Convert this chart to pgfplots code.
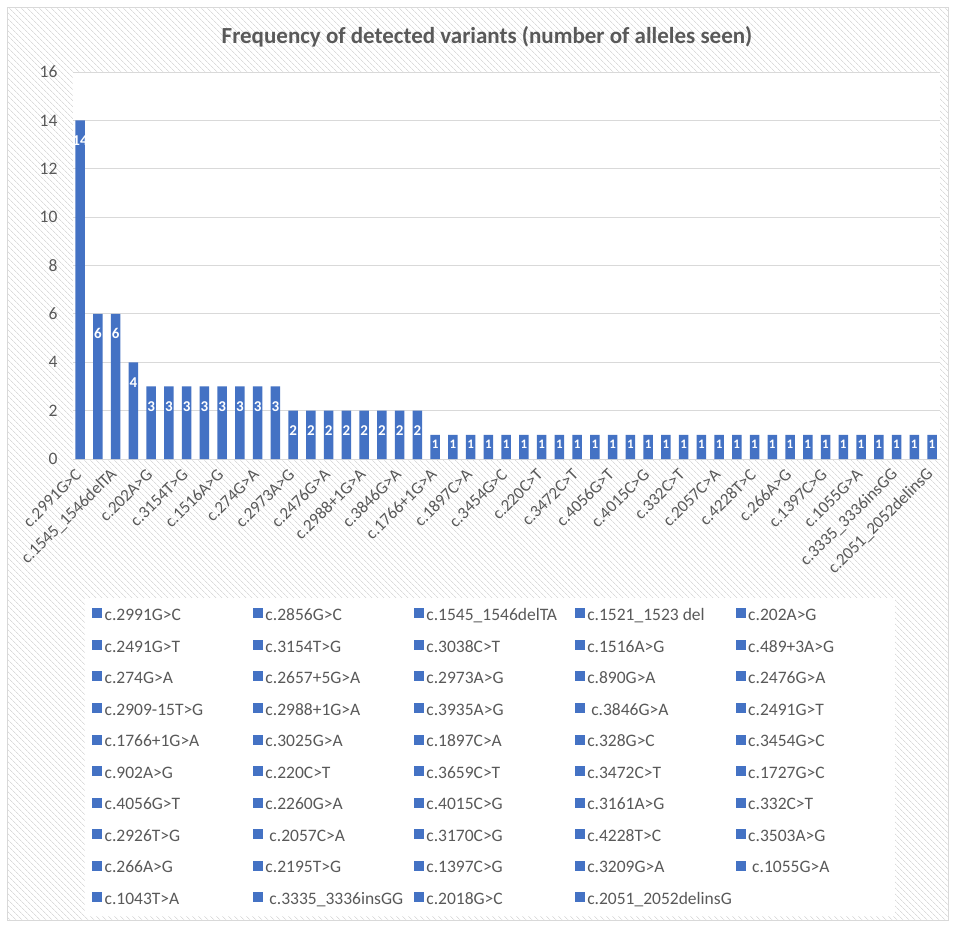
\documentclass[border=0pt]{standalone}
\usepackage{pgfplots}
\pgfplotsset{compat=1.18}
\usetikzlibrary{patterns.meta}
\usepackage{fontspec}
\setmainfont{Carlito}
\definecolor{barblue}{HTML}{4472C4}
\definecolor{txt}{HTML}{595959}
\definecolor{gridc}{HTML}{D9D9D9}
\pgfplotsset{sq/.style={legend image code/.code={\fill[barblue] (0pt,-2.4pt) rectangle (9pt,6.6pt);}}}
\newcommand{\LE}[1]{\addlegendimage{sq}\addlegendentry{\makebox[140pt][l]{\strut#1}}}
\begin{document}
\begin{tikzpicture}
\fill[white] (0pt,0pt) rectangle (955pt,-927pt);
\fill[pattern={Lines[angle=-45,distance=4pt,line width=0.7pt]},pattern color=black!14] (7pt,-7pt) rectangle (948pt,-920pt);
\draw[gridc] (7pt,-7pt) rectangle (948pt,-920pt);
\node[font=\bfseries\fontsize{23}{23}\selectfont, text=txt] at (487pt,-37pt) {Frequency of detected variants (number of alleles seen)};
\begin{axis}[
 at={(73pt,-459pt)}, anchor=south west,
 scale only axis, width=867pt, height=387pt,
 ymin=0, ymax=16, ytick={0,2,...,16},
 xmin=-0.4, xmax=48.45,
 ybar, bar width=9.5pt,
 axis background/.style={fill=white},
 ymajorgrids, grid style={gridc, line width=0.8pt},
 axis x line*=bottom, axis y line*=left,
 y axis line style={draw=none},
 x axis line style={gridc, line width=0.8pt},
 tick style={draw=none},
 xtick={0,2,...,48},
 xticklabels={c.2991G>C, c.1545\textunderscore 1546delTA, c.202A>G, c.3154T>G, c.1516A>G, c.274G>A, c.2973A>G, c.2476G>A, c.2988+1G>A, c.3846G>A, c.1766+1G>A, c.1897C>A, c.3454G>C, c.220C>T, c.3472C>T, c.4056G>T, c.4015C>G, c.332C>T, c.2057C>A, c.4228T>C, c.266A>G, c.1397C>G, c.1055G>A, c.3335\textunderscore 3336insGG, c.2051\textunderscore 2052delinsG},
 xticklabel style={rotate=45, anchor=east, font=\fontsize{17}{17}\selectfont, text=txt, inner sep=2pt},
 xticklabel shift=7pt,
 yticklabel style={font=\fontsize{17.5}{17.5}\selectfont, text=txt, xshift=-12pt},
 /pgf/number format/assume math mode=true,
 nodes near coords,
 legend columns=5,
 legend cell align=left,
 legend style={at={(0.01384,-0.3592)}, anchor=north west, draw=none, fill=white,
   inner xsep=7pt, inner ysep=10pt, row sep=17.8pt,
   font=\fontsize{17.5}{17.5}\selectfont, text=txt, nodes={inner sep=0pt},
   /tikz/every odd column/.append style={column sep=3pt},
   /tikz/every even column/.append style={column sep=8.5pt}},
]
% bars with values >= 2
\addplot[fill=barblue, draw=none, forget plot, bar shift=0pt,
  every node near coord/.append style={anchor=center, yshift=-20pt, text=white, font=\bfseries\fontsize{15}{15}\selectfont}] coordinates {
(0,14) (1,6) (2,6) (3,4)
(4,3) (5,3) (6,3) (7,3) (8,3) (9,3) (10,3) (11,3)
(12,2) (13,2) (14,2) (15,2) (16,2) (17,2) (18,2) (19,2)
};
% bars with value 1
\addplot[fill=barblue, draw=none, forget plot, bar shift=0pt,
  every node near coord/.append style={anchor=center, yshift=-9pt, text=white, font=\bfseries\fontsize{13}{13}\selectfont}] coordinates {
(20,1) (21,1) (22,1) (23,1) (24,1) (25,1) (26,1) (27,1) (28,1) (29,1)
(30,1) (31,1) (32,1) (33,1) (34,1) (35,1) (36,1) (37,1) (38,1) (39,1)
(40,1) (41,1) (42,1) (43,1) (44,1) (45,1) (46,1) (47,1) (48,1)
};
\LE{c.2991G>C}\LE{c.2856G>C}\LE{c.1545\textunderscore 1546delTA}\LE{c.1521\textunderscore 1523 del}\LE{c.202A>G}
\LE{c.2491G>T}\LE{c.3154T>G}\LE{c.3038C>T}\LE{c.1516A>G}\LE{c.489+3A>G}
\LE{c.274G>A}\LE{c.2657+5G>A}\LE{c.2973A>G}\LE{c.890G>A}\LE{c.2476G>A}
\LE{c.2909-15T>G}\LE{c.2988+1G>A}\LE{c.3935A>G}\LE{\hspace{4pt}c.3846G>A}\LE{c.2491G>T}
\LE{c.1766+1G>A}\LE{c.3025G>A}\LE{c.1897C>A}\LE{c.328G>C}\LE{c.3454G>C}
\LE{c.902A>G}\LE{c.220C>T}\LE{c.3659C>T}\LE{c.3472C>T}\LE{c.1727G>C}
\LE{c.4056G>T}\LE{c.2260G>A}\LE{c.4015C>G}\LE{c.3161A>G}\LE{c.332C>T}
\LE{c.2926T>G}\LE{\hspace{4pt}c.2057C>A}\LE{c.3170C>G}\LE{c.4228T>C}\LE{c.3503A>G}
\LE{c.266A>G}\LE{c.2195T>G}\LE{c.1397C>G}\LE{c.3209G>A}\LE{\hspace{4pt}c.1055G>A}
\LE{c.1043T>A}\LE{\hspace{4pt}c.3335\textunderscore 3336insGG}\LE{c.2018G>C}\LE{c.2051\textunderscore 2052delinsG}
\end{axis}
\end{tikzpicture}
\end{document}
